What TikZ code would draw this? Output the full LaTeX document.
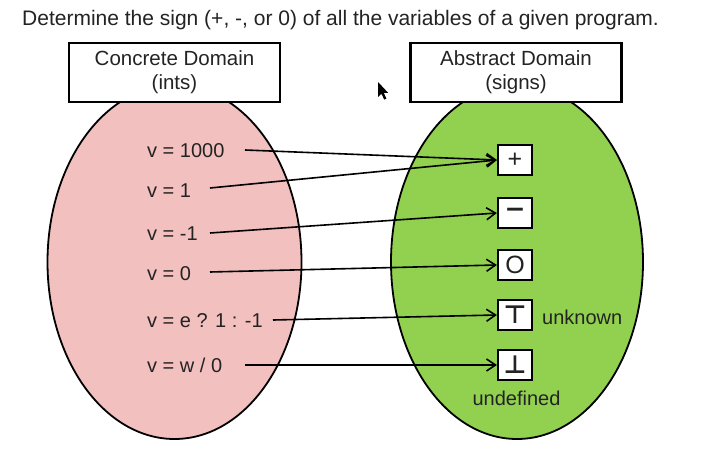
\documentclass[tikz,border=0pt]{standalone}
\usepackage{fontspec}
\setmainfont{Liberation Sans}
\newfontfamily\symfont{DejaVu Sans}
\usetikzlibrary{arrows.meta}
\definecolor{pinkfill}{RGB}{243,192,192}
\definecolor{greenfill}{RGB}{146,208,80}
\definecolor{txt}{RGB}{35,35,35}
\begin{document}
\begin{tikzpicture}[x=1pt,y=-1pt,
 lbl/.style={font=\fontsize{20}{24}\selectfont, text=txt, inner sep=0pt, anchor=base west},
 hdr/.style={draw, line width=2.8pt, fill=white, minimum width=211pt, minimum height=59pt, align=center, font=\fontsize{20.5}{24}\selectfont, text=txt, inner sep=0pt},
 sgn/.style={draw, line width=2.2pt, fill=white, minimum width=34pt, minimum height=30pt, inner sep=0pt, font=\fontsize{25}{26}\selectfont, text=txt},
 oval/.style={draw, line width=1.8pt},
 conn/.style={line width=1.6pt, -{Straight Barb[length=9pt,width=12pt,line width=1.6pt]}}
]
\useasboundingbox[fill=white] (0,0) rectangle (709,457);

\node[font=\fontsize{21}{24}\selectfont, text=txt, inner sep=0pt, anchor=base west] (title) at (22,25.5)
  {Determine the sign (+, -, or 0) of all the variables of a given program.};

% domains
\draw[oval, fill=pinkfill] (174.5,262) ellipse [x radius=127, y radius=177];
\draw[oval, fill=greenfill] (517,262) ellipse [x radius=126, y radius=177];

\node[hdr] (conc) at (174.5,72.5) {Concrete Domain\\(ints)};
\node[hdr] (abs) at (516,72.5) {Abstract Domain\\(signs)};

% concrete values
\node[lbl] (c1) at (147,157.5) {v = 1000};
\node[lbl] (c2) at (147,197.5) {v = 1};
\node[lbl] (c3) at (147,240.5) {v = -1};
\node[lbl] (c4) at (147,280.5) {v = 0};
\node[lbl] (c5) at (147,327.5) {v = e ? 1 : -1};
\node[lbl] (c6) at (147,372.5) {v = w / 0};

\coordinate (s1) at (245,150);
\coordinate (s2) at (210,188);
\coordinate (s3) at (210,233);
\coordinate (s4) at (210,272);
\coordinate (s5) at (273,320);
\coordinate (s6) at (245,365);

% abstract signs
\node[sgn] (plus) at (515,160) {+};
\node[sgn] (minus) at (515,213) {\bfseries\symfont −};
\node[sgn] (zero) at (515,265) {O};
\node[sgn] (top) at (515,315) {\bfseries\symfont ⊤};
\node[sgn] (bot) at (515,365) {\bfseries\symfont ⊥};

\node[lbl, anchor=west] (unk) at (542,317) {unknown};
\node[lbl, anchor=center] (undef) at (516.5,398) {undefined};

% connectors
\draw[conn] (s1) -- (plus.west);
\draw[conn] (s2) -- (plus.west);
\draw[conn] (s3) -- (minus.west);
\draw[conn] (s4) -- (zero.west);
\draw[conn] (s5) -- (top.west);
\draw[conn] (s6) -- (bot.west);

% mouse pointer
\fill[black] (378,82) -- (378,97) -- (381.5,93.8) -- (384.2,99.6) -- (386.4,98.6) -- (383.8,92.9) -- (388.2,92.9) -- cycle;
\end{tikzpicture}
\end{document}
